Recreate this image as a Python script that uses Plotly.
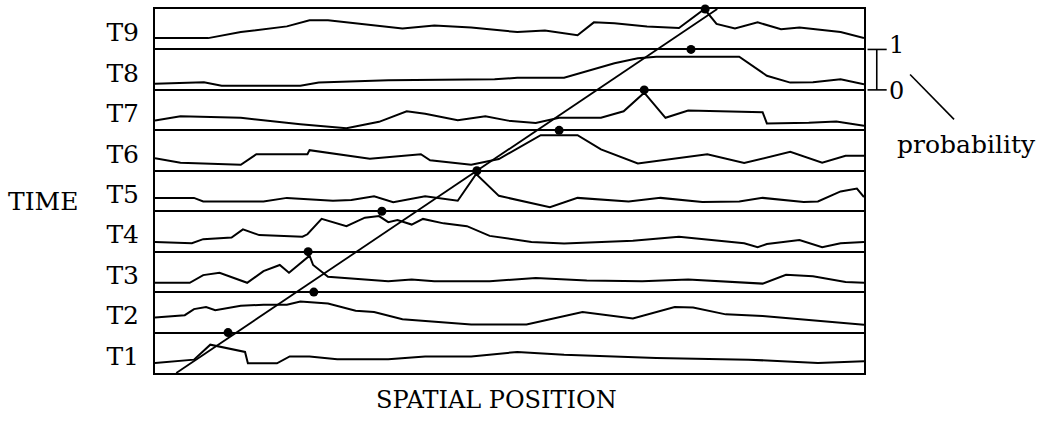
import plotly.graph_objects as go

# ---------------- data ----------------
LABELS = ["T1", "T2", "T3", "T4", "T5", "T6", "T7", "T8", "T9"]

T1_X = [0, 3.6, 5.5, 7.8, 12.7, 13.1, 17.2, 19.0, 21.8, 25.7, 32.9, 38.1, 44.6, 51.1, 57.7, 70.7, 83.7, 93.5, 100]
T1_P = [0.25, 0.30, 0.33, 0.70, 0.52, 0.24, 0.24, 0.41, 0.41, 0.34, 0.34, 0.41, 0.41, 0.52, 0.45, 0.37, 0.33, 0.25, 0.29]

T2_X = [0, 4.2, 5.5, 7.2, 8.5, 12.1, 15.3, 18.6, 20.5, 24.4, 28.3, 30.9, 34.9, 44.6, 52.4, 60.3, 67.4, 73.3, 75.9, 80.5, 85.7, 93.5, 100]
T2_P = [0.37, 0.43, 0.58, 0.63, 0.55, 0.66, 0.69, 0.69, 0.77, 0.72, 0.54, 0.51, 0.33, 0.20, 0.20, 0.51, 0.35, 0.63, 0.62, 0.45, 0.41, 0.29, 0.19]

T3_X = [0, 4.9, 6.8, 9.1, 13.0, 15.3, 17.6, 18.9, 21.8, 22.3, 24.4, 29.0, 32.9, 36.2, 39.4, 47.2, 53.7, 60.9, 68.7, 75.2, 85.7, 89.0, 92.8, 97.4, 100]
T3_P = [0.23, 0.23, 0.42, 0.48, 0.23, 0.52, 0.67, 0.48, 0.90, 0.67, 0.38, 0.32, 0.27, 0.31, 0.27, 0.27, 0.35, 0.29, 0.27, 0.31, 0.21, 0.43, 0.39, 0.25, 0.23]

T4_X = [0, 5.2, 6.8, 10.8, 12.4, 14.7, 20.8, 21.5, 23.5, 27.0, 29.6, 31.6, 32.9, 34.2, 36.2, 37.8, 40.7, 44.0, 47.2, 53.1, 57.7, 67.4, 73.9, 83.1, 85.0, 86.3, 90.9, 94.1, 96.7, 100]
T4_P = [0.24, 0.21, 0.31, 0.35, 0.55, 0.41, 0.37, 0.43, 0.81, 0.63, 0.84, 0.88, 0.73, 0.78, 0.67, 0.81, 0.70, 0.63, 0.39, 0.24, 0.20, 0.27, 0.37, 0.21, 0.11, 0.19, 0.29, 0.11, 0.21, 0.24]

T5_X = [0, 5.5, 6.8, 15.3, 18.6, 25.1, 27.7, 30.9, 33.6, 38.1, 42.7, 45.3, 48.5, 55.7, 59.6, 66.8, 71.3, 77.2, 82.4, 85.7, 91.5, 93.5, 96.7, 99.0, 100]
T5_P = [0.33, 0.33, 0.24, 0.24, 0.33, 0.26, 0.28, 0.37, 0.22, 0.37, 0.26, 0.92, 0.38, 0.10, 0.33, 0.24, 0.33, 0.23, 0.24, 0.33, 0.23, 0.24, 0.49, 0.56, 0.35]

T6_X = [0, 3.6, 12.1, 14.3, 21.5, 21.8, 30.3, 37.5, 38.8, 44.6, 48.5, 54.4, 59.6, 62.9, 68.1, 72.6, 77.9, 83.1, 89.6, 94.1, 97.4, 100]
T6_P = [0.31, 0.20, 0.15, 0.41, 0.41, 0.51, 0.30, 0.41, 0.26, 0.15, 0.29, 0.88, 0.88, 0.53, 0.18, 0.29, 0.41, 0.19, 0.47, 0.20, 0.37, 0.37]

T7_X = [0, 3.6, 12.1, 20.5, 27.0, 31.6, 35.5, 38.1, 42.7, 46.6, 49.8, 53.7, 57.0, 62.9, 66.1, 69.0, 72.0, 75.2, 85.7, 86.3, 92.2, 96.1, 100]
T7_P = [0.24, 0.35, 0.31, 0.15, 0.05, 0.21, 0.47, 0.41, 0.25, 0.35, 0.24, 0.18, 0.31, 0.31, 0.47, 0.93, 0.31, 0.49, 0.45, 0.17, 0.19, 0.22, 0.11]

T8_X = [0, 6.9, 9.4, 20.5, 23.1, 32.9, 47.9, 51.1, 57.7, 61.6, 64.8, 68.1, 70.7, 82.4, 86.3, 89.6, 92.8, 96.7, 100]
T8_P = [0.15, 0.19, 0.10, 0.10, 0.18, 0.24, 0.26, 0.30, 0.30, 0.50, 0.66, 0.78, 0.82, 0.82, 0.35, 0.18, 0.19, 0.26, 0.14]

T9_X = [0, 7.5, 12.1, 18.6, 21.8, 24.4, 34.9, 39.4, 44.6, 51.1, 55.0, 59.6, 61.9, 64.8, 69.4, 73.9, 77.5, 79.2, 81.8, 85.0, 88.3, 90.9, 96.7, 100]
T9_P = [0.28, 0.28, 0.43, 0.57, 0.72, 0.72, 0.52, 0.59, 0.54, 0.43, 0.47, 0.35, 0.67, 0.65, 0.57, 0.53, 1.00, 0.63, 0.52, 0.67, 0.50, 0.54, 0.43, 0.28]

# position of the maximum-probability marker for each time step
PEAK_X = [10.3, 22.4, 21.6, 32.0, 45.4, 57.0, 69.0, 75.6, 77.6]

# fitted trajectory line (spatial position vs time, in band units)
FIT_X = [3.0, 79.3]
FIT_Y = [0, 9]

SERIES_X = [T1_X, T2_X, T3_X, T4_X, T5_X, T6_X, T7_X, T8_X, T9_X]
SERIES_P = [T1_P, T2_P, T3_P, T4_P, T5_P, T6_P, T7_P, T8_P, T9_P]

# ---------------- figure ----------------
FONT = "DejaVu Serif"
fig = go.Figure()

for i, (xs, ps) in enumerate(zip(SERIES_X, SERIES_P)):
    fig.add_trace(go.Scatter(
        x=xs, y=[i + p for p in ps], mode="lines",
        line=dict(color="black", width=2),
        showlegend=False, hoverinfo="skip", name=LABELS[i]))

fig.add_trace(go.Scatter(
    x=FIT_X, y=FIT_Y, mode="lines",
    line=dict(color="black", width=1.8),
    showlegend=False, hoverinfo="skip"))

fig.add_trace(go.Scatter(
    x=PEAK_X, y=[i + 1 for i in range(len(PEAK_X))], mode="markers",
    marker=dict(color="black", size=9),
    cliponaxis=False, showlegend=False, hoverinfo="skip"))

n = len(LABELS)
fig.update_layout(
    width=1039, height=423, autosize=False,
    margin=dict(l=155, r=175, t=7, b=50),
    plot_bgcolor="white", paper_bgcolor="white",
    font=dict(family=FONT, color="black", size=24),
    xaxis=dict(range=[0, 100], showticklabels=False, showgrid=False,
               zeroline=False, ticks="", showline=True, mirror=True,
               linecolor="black", linewidth=2),
    yaxis=dict(range=[0, n], tickmode="array",
               tickvals=[i + 0.42 for i in range(n)], ticktext=LABELS,
               tickfont=dict(family=FONT, size=25, color="black"),
               showgrid=False, zeroline=False, ticks="",
               ticklabelstandoff=9,
               showline=True, mirror=True, linecolor="black", linewidth=2,
               minor=dict(tickmode="linear", tick0=0, dtick=1, showgrid=True,
                          gridcolor="black", gridwidth=1.6, ticks="")),
)

# probability scale bracket spanning band T8 (0 .. 1)
fig.add_shape(type="line", xref="paper", yref="y", x0=1.018, x1=1.018, y0=7, y1=8,
              line=dict(color="black", width=1.6))
fig.add_shape(type="line", xref="paper", yref="y", x0=1.005, x1=1.032, y0=8, y1=8,
              line=dict(color="black", width=1.6))
fig.add_shape(type="line", xref="paper", yref="y", x0=1.005, x1=1.032, y0=7, y1=7,
              line=dict(color="black", width=1.6))
fig.add_shape(type="line", xref="paper", yref="y", x0=1.065, x1=1.127, y0=7.38, y1=6.27,
              line=dict(color="black", width=1.6))

fig.add_annotation(text="1", xref="paper", yref="y", x=1.033, y=8.12,
                   xanchor="left", yanchor="middle", showarrow=False,
                   font=dict(family=FONT, size=24))
fig.add_annotation(text="0", xref="paper", yref="y", x=1.033, y=6.98,
                   xanchor="left", yanchor="middle", showarrow=False,
                   font=dict(family=FONT, size=24))
fig.add_annotation(text="probability", xref="paper", yref="y", x=1.144, y=5.66,
                   xanchor="center", yanchor="middle", showarrow=False,
                   font=dict(family=FONT, size=25))
fig.add_annotation(text="TIME", xref="paper", yref="y", x=-0.158, y=4.25,
                   xanchor="center", yanchor="middle", showarrow=False,
                   font=dict(family=FONT, size=25))
fig.add_annotation(text="SPATIAL POSITION", xref="paper", yref="paper", x=0.481, y=-0.075,
                   xanchor="center", yanchor="middle", showarrow=False,
                   font=dict(family=FONT, size=24))

fig.write_html("out.html", config={"displayModeBar": False},
               post_script="document.body.style.margin='0';")
